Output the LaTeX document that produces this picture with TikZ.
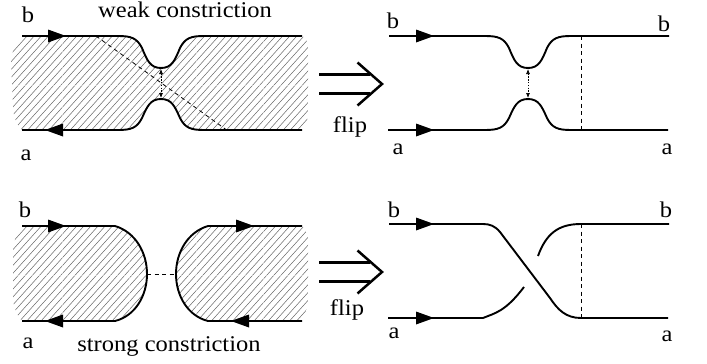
\documentclass[tikz,border=0pt]{standalone}
\usepackage{fontspec}
\setmainfont[FakeStretch=1.09]{Liberation Serif}
\usetikzlibrary{arrows.meta}
\tikzset{
 x=1pt,y=-1pt,
 line/.style={line width=1.9pt,black},
 hatchline/.style={line width=0.5pt,black!60},
 gapline/.style={line width=0.6pt,white,opacity=0.45},
 lab/.style={font=\fontsize{22.5}{22.5}\selectfont,inner sep=0pt,anchor=base},
 tip/.style={fill=black,draw=none},
 dash1/.style={line width=0.8pt,black,dash pattern=on 4pt off 3.5pt},
 flipline/.style={line width=2.5pt,black},
 vv/.style={line width=0.7pt,black,dash pattern=on 1.3pt off 1.5pt,{Latex[length=5pt,width=4pt]}-{Latex[length=5pt,width=4pt]}}
}
\newcommand{\hatchall}{\foreach \k in {-20,...,60}{\draw[hatchline] (\k*7.1,145) -- ++(108,-120);}}
\newcommand{\rtip}[2]{\fill[tip] (#1,#2-6.5) -- (#1+18,#2) -- (#1,#2+6.5) -- cycle;}
\newcommand{\ltip}[2]{\fill[tip] (#1,#2-6.5) -- (#1-18,#2) -- (#1,#2+6.5) -- cycle;}
\newcommand{\flipsym}[1]{
 \draw[flipline] (319,#1-9.5) -- (370,#1-9.5);
 \draw[flipline] (319,#1+9.5) -- (370,#1+9.5);
 \draw[flipline] (357.5,#1-21.5) -- (382,#1) -- (357.5,#1+21.5);
}
% upper and lower strand of a constriction centred on #1
\newcommand{\upneck}[1]{(#1-43,36) .. controls (#1-30,36) and (#1-24,38) .. (#1-19,48)
 .. controls (#1-14,60) and (#1-11,68) .. (#1,68)
 .. controls (#1+11,68) and (#1+14,60) .. (#1+19,48)
 .. controls (#1+24,38) and (#1+30,36) .. (#1+43,36)}
\newcommand{\loneck}[1]{(#1-43,130) .. controls (#1-30,130) and (#1-24,128) .. (#1-19,118)
 .. controls (#1-14,107) and (#1-11,99) .. (#1,99)
 .. controls (#1+11,99) and (#1+14,107) .. (#1+19,118)
 .. controls (#1+24,128) and (#1+30,130) .. (#1+43,130)}
\begin{document}
\begin{tikzpicture}
\useasboundingbox (0,0) rectangle (707,364);
% top-left hatch
\begin{scope}
\clip (22,36) -- (118,36) .. controls (131,36) and (137,38) .. (142,48)
 .. controls (147,60) and (150,68) .. (161,68)
 .. controls (172,68) and (175,60) .. (180,48)
 .. controls (185,38) and (191,36) .. (204,36)
 -- (302,36) .. controls (306,38) and (308,42) .. (308,48) -- (308,110)
 .. controls (308,120) and (306,126) .. (302,130)
 -- (204,130) .. controls (191,130) and (185,128) .. (180,118)
 .. controls (175,107) and (172,99) .. (161,99)
 .. controls (150,99) and (147,107) .. (142,118)
 .. controls (137,128) and (131,130) .. (118,130)
 -- (22,130) .. controls (16,124) and (13,116) .. (13,105)
 -- (11,62) .. controls (12,50) and (16,42) .. (22,36) -- cycle;
\hatchall
\foreach \xx in {62,129,196,263}{\draw[gapline] (\xx,30) -- (\xx,135);}
\draw[gapline] (5,85) -- (310,85);
\end{scope}
% bottom-left hatches
\begin{scope}
\clip (22,226) -- (115,226) .. controls (135,232) and (147,252) .. (147,274)
 .. controls (147,296) and (135,316) .. (115,321) -- (22,321)
 .. controls (16,314) and (13,306) .. (13,296) -- (13,250) .. controls (14,240) and (17,232) .. (22,226) -- cycle;
\begin{scope}[yshift=-190pt]\hatchall\end{scope}
\foreach \xx in {62,129}{\draw[gapline] (\xx,220) -- (\xx,325);}
\draw[gapline] (5,275) -- (150,275);
\end{scope}
\begin{scope}
\clip (208,226) -- (302,226) .. controls (305,228) and (308,232) .. (308,238) -- (308,300) .. controls (307,310) and (305,316) .. (302,321) -- (208,321)
 .. controls (188,316) and (176,296) .. (176,274)
 .. controls (176,252) and (188,232) .. (208,226) -- cycle;
\begin{scope}[yshift=-190pt]\hatchall\end{scope}
\foreach \xx in {196,263}{\draw[gapline] (\xx,220) -- (\xx,325);}
\draw[gapline] (170,275) -- (310,275);
\end{scope}
% top-left lines
\coordinate (tl) at (22,36);
\coordinate (tr) at (302,36);
\coordinate (bl) at (22,130);
\coordinate (br) at (302,130);
\draw[line] (tl) -- \upneck{161} -- (tr);
\draw[line] (bl) -- \loneck{161} -- (br);
\rtip{48}{36}
\ltip{63}{130}
\draw[dash1] (96,36) -- (228,131);
\draw[vv] (161,69) -- (161,98);
% bottom-left lines
\coordinate (c1) at (147,274);
\coordinate (c2) at (176,274);
\draw[line] (22,226) -- (115,226) .. controls (135,232) and (147,252) .. (c1)
 .. controls (147,296) and (135,316) .. (115,321) -- (22,321);
\draw[line] (302,226) -- (208,226) .. controls (188,232) and (176,252) .. (c2)
 .. controls (176,296) and (188,316) .. (208,321) -- (302,321);
\rtip{48}{226}
\ltip{63}{321}
\rtip{236}{226}
\ltip{249}{321}
\draw[dash1] (c1) -- (c2);
% arrows
\flipsym{84}
\flipsym{272}
% top-right
\draw[line] (389,36) -- \upneck{528} -- (669,36);
\draw[line] (388,130) -- \loneck{528} -- (668,130);
\rtip{416}{36}
\rtip{416}{130}
\draw[dash1] (581,36) -- (581,131);
\draw[vv] (528,69) -- (528,98);
% bottom-right
\draw[line] (389,224) -- (483,224) .. controls (490,224) and (495,226) .. (500,232)
 -- (550,298) .. controls (558,310) and (566,318) .. (581,318) -- (668,318);
\draw[line] (538,256) .. controls (546,234) and (558,224) .. (581,224) -- (669,224);
\draw[line] (388,318) -- (483,318) .. controls (495,313) and (505,312) .. (524,287);
\rtip{416}{224}
\rtip{416}{318}
\draw[dash1] (581,224) -- (581,318);
% text
\node[lab] at (185,17) {weak constriction};
\node[lab] at (28,23) {b};
\node[lab] at (26,160) {a};
\node[lab] at (25,217) {b};
\node[lab] at (28,348) {a};
\node[lab] at (169,351) {strong constriction};
\node[lab] at (350,132) {flip};
\node[lab] at (347,315) {flip};
\node[lab] at (393,28) {b};
\node[lab] at (398,154) {a};
\node[lab] at (664,31) {b};
\node[lab] at (667,154) {a};
\node[lab] at (394,217) {b};
\node[lab] at (394,338) {a};
\node[lab] at (666,217) {b};
\node[lab] at (667,341) {a};
\end{tikzpicture}
\end{document}
